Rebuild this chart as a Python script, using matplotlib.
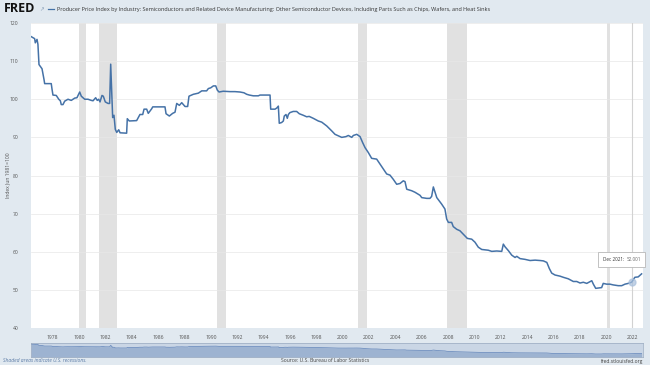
import matplotlib.pyplot as plt

# values (decimal year, index Jun 1981=100)
years = [1976.38, 1976.63, 1976.68, 1976.81, 1976.88, 1976.96, 1977.19, 1977.34, 1977.39, 1977.89,
         1977.95, 1978.02, 1978.27, 1978.46, 1978.58, 1978.65, 1978.78, 1978.91, 1979.16, 1979.41,
         1979.67, 1979.84, 1980.05, 1980.17, 1980.30, 1980.43, 1980.68, 1980.93, 1981.06, 1981.26,
         1981.38, 1981.49, 1981.59, 1981.74, 1981.84, 1981.99, 1982.20, 1982.32, 1982.40, 1982.50,
         1982.55, 1982.65, 1982.75, 1982.86, 1983.01, 1983.11, 1983.61, 1983.66, 1983.81, 1984.37,
         1984.62, 1984.83, 1984.93, 1985.13, 1985.25, 1985.51, 1985.59, 1986.52, 1986.60, 1986.85,
         1987.10, 1987.28, 1987.41, 1987.61, 1987.79, 1988.04, 1988.24, 1988.34, 1988.67, 1989.05,
         1989.31, 1989.68, 1989.81, 1989.99, 1990.19, 1990.37, 1990.49, 1990.62, 1990.94, 1991.45,
         1991.83, 1992.21, 1992.51, 1992.72, 1992.92, 1993.22, 1993.60, 1993.73, 1994.49, 1994.54,
         1994.87, 1995.00, 1995.12, 1995.19, 1995.37, 1995.50, 1995.57, 1995.70, 1995.80, 1995.88,
         1996.00, 1996.25, 1996.51, 1996.71, 1997.01, 1997.27, 1997.46, 1997.77, 1998.15, 1998.41,
         1998.79, 1999.17, 1999.42, 1999.67, 1999.93, 2000.25, 2000.43, 2000.69, 2000.81, 2001.07,
         2001.32, 2001.52, 2001.70, 2001.95, 2002.20, 2002.58, 2002.83, 2003.08, 2003.34, 2003.59,
         2003.84, 2004.10, 2004.35, 2004.60, 2004.73, 2004.86, 2005.24, 2005.49, 2005.87, 2006.00,
         2006.38, 2006.62, 2006.75, 2006.88, 2007.14, 2007.51, 2007.76, 2007.89, 2008.02, 2008.27,
         2008.39, 2008.65, 2008.90, 2009.15, 2009.46, 2009.79, 2010.04, 2010.29, 2010.55, 2011.05,
         2011.31, 2011.69, 2012.07, 2012.19, 2012.32, 2012.57, 2012.83, 2013.08, 2013.21, 2013.46,
         2013.84, 2014.22, 2014.60, 2014.98, 2015.23, 2015.49, 2015.68, 2015.86, 2016.11, 2016.49,
         2016.74, 2017.12, 2017.50, 2017.76, 2018.01, 2018.26, 2018.52, 2018.90, 2019.02, 2019.20,
         2019.40, 2019.65, 2019.77, 2020.03, 2020.28, 2020.53, 2020.91, 2021.17, 2021.42, 2021.67,
         2021.92, 2022.17, 2022.42, 2022.68]
values = [116.4, 115.9, 114.8, 115.7, 114.4, 109.1, 108.0, 105.2, 104.1, 104.1,
          102.6, 101.1, 101.0, 100.0, 99.6, 98.6, 98.6, 99.5, 100.0, 99.7,
          100.3, 100.4, 101.9, 100.8, 100.4, 100.0, 100.0, 99.7, 99.6, 100.4,
          99.7, 100.0, 99.3, 101.0, 100.8, 99.3, 98.9, 98.9, 109.2, 100.0,
          95.2, 95.8, 92.1, 91.3, 92.0, 91.2, 91.1, 94.9, 94.3, 94.4,
          96.0, 96.0, 97.4, 97.4, 96.3, 97.5, 98.0, 98.0, 96.2, 95.6,
          96.3, 96.6, 98.9, 98.4, 99.1, 98.1, 98.1, 100.8, 101.3, 101.6,
          102.2, 102.2, 102.8, 103.0, 103.5, 103.5, 102.4, 101.9, 102.1, 102.0,
          102.0, 101.9, 101.7, 101.3, 101.1, 100.9, 100.9, 101.1, 101.1, 97.4,
          97.4, 97.7, 98.2, 93.7, 93.9, 94.3, 95.6, 96.0, 95.0, 96.0,
          96.5, 96.8, 96.8, 96.2, 95.8, 95.4, 95.5, 95.0, 94.3, 94.0,
          93.0, 91.7, 90.8, 90.4, 90.0, 90.2, 90.5, 90.0, 90.5, 90.8,
          90.2, 88.6, 87.3, 86.0, 84.5, 84.3, 83.0, 81.7, 80.4, 80.1,
          79.0, 77.7, 77.9, 78.6, 78.4, 76.4, 76.0, 75.6, 74.8, 74.2,
          74.0, 74.0, 74.5, 77.0, 74.2, 72.5, 71.2, 68.6, 67.7, 67.7,
          66.6, 65.9, 65.5, 64.6, 63.5, 63.3, 62.5, 61.2, 60.6, 60.4,
          60.1, 60.2, 60.1, 62.0, 61.3, 60.3, 59.1, 58.5, 58.8, 58.2,
          58.0, 57.7, 57.8, 57.7, 57.6, 57.2, 55.6, 54.4, 53.9, 53.6,
          53.3, 52.9, 52.2, 52.2, 51.8, 52.0, 51.7, 52.4, 51.5, 50.4,
          50.5, 50.6, 51.7, 51.5, 51.5, 51.3, 51.1, 51.1, 51.5, 51.7,
          52.0, 53.3, 53.4, 54.2]

recessions = [(1980.0, 1980.5), (1981.5, 1982.87), (1990.5, 1991.17),
              (2001.17, 2001.83), (2007.92, 2009.42), (2020.08, 2020.25)]
xticks = list(range(1978, 2023, 2))
yticks = list(range(40, 121, 10))
hover_year, hover_val = 2021.92, 52.0
hover_date, hover_text = 'Dec 2021:', '52.001'

title = ('Producer Price Index by Industry: Semiconductors and Related Device Manufacturing: '
         'Other Semiconductor Devices, Including Parts Such as Chips, Wafers, and Heat Sinks')

plt.rcParams['font.family'] = ['Open Sans', 'DejaVu Sans']
W, H = 650, 365
bg = '#e1e9f0'
blue = '#4572a7'
xmin, xmax = 1976.354, 2022.787

fig = plt.figure(figsize=(6.5, 3.65), dpi=100, facecolor=bg)
ax = fig.add_axes([31 / W, 1 - 328 / H, 612 / W, 305 / H])
ax.set_facecolor('white')
for a, b in recessions:
    ax.axvspan(a, b, color='#e1e1e1', lw=0, zorder=0)
ax.plot(years, values, color=blue, lw=1.1, zorder=3)
ax.axvline(hover_year, color='#d2d2d2', lw=0.8, zorder=1)
ax.plot([hover_year], [hover_val], 'o', ms=5, color='#a9c0dc', alpha=0.7, zorder=4)
ax.set_xlim(xmin, xmax)
ax.set_ylim(40, 120)
ax.set_xticks(xticks)
ax.set_yticks(yticks)
ax.tick_params(axis='both', labelsize=3.6, colors='#555555', length=0)
ax.tick_params(axis='x', pad=5)
ax.tick_params(axis='y', pad=9)
ax.grid(axis='y', color='#e8e8e8', lw=0.5)
ax.set_axisbelow(True)
for s in ax.spines.values():
    s.set_visible(False)

# tooltip box
fig.patches.append(plt.Rectangle((598 / W, 1 - 267 / H), 47 / W, 15 / H, transform=fig.transFigure,
                                 fc='white', ec='#b8b8b8', lw=0.6, zorder=6))
fig.text(603 / W, 1 - 259.5 / H, hover_date, fontsize=3.3, color='#333333',
         va='center', zorder=7)
fig.text(641 / W, 1 - 259.5 / H, hover_text, fontsize=3.3, color='#666666', ha='right',
         va='center', zorder=7)

# navigator
nav = fig.add_axes([31 / W, 1 - 357 / H, 612 / W, 14 / H])
nav.set_facecolor('#cad6e5')
nav.fill_between(years, 30, values, color='#9db3d1', lw=0)
nav.plot(years, values, color='#6f8fbf', lw=0.6)
nav.set_xlim(xmin, xmax)
nav.set_ylim(30, 125)
nav.set_xticks([])
nav.set_yticks([])
for s in nav.spines.values():
    s.set_color('#9aaac0')
    s.set_linewidth(0.5)

# header and footer
fig.text(4 / W, 1 - 9 / H, 'FRED', fontsize=9, fontweight='bold', color='#111111', va='center')
fig.text(39 / W, 1 - 10 / H, '\u2197', fontsize=4, color='#8aa0b8', va='center')
fig.lines.append(plt.Line2D([48 / W, 54 / W], [1 - 9 / H, 1 - 9 / H], transform=fig.transFigure,
                            color=blue, lw=0.9))
fig.text(57 / W, 1 - 9 / H, title, fontsize=3.95, color='#333333', va='center')
fig.text(8 / W, 1 - 175 / H, 'Index Jun 1981=100', fontsize=3.6, color='#555555',
         rotation=90, ha='center', va='center')
fig.text(3 / W, 1 - 361 / H, 'Shaded areas indicate U.S. recessions.', fontsize=3.6,
         color='#5b7ba6', style='italic', va='center')
fig.text(325 / W, 1 - 361 / H, 'Source: U.S. Bureau of Labor Statistics', fontsize=3.6,
         color='#444444', ha='center', va='center')
fig.text(643 / W, 1 - 361 / H, 'fred.stlouisfed.org', fontsize=3.6, color='#444444',
         ha='right', va='center')

fig.savefig('out.png', dpi=100, facecolor=bg)
